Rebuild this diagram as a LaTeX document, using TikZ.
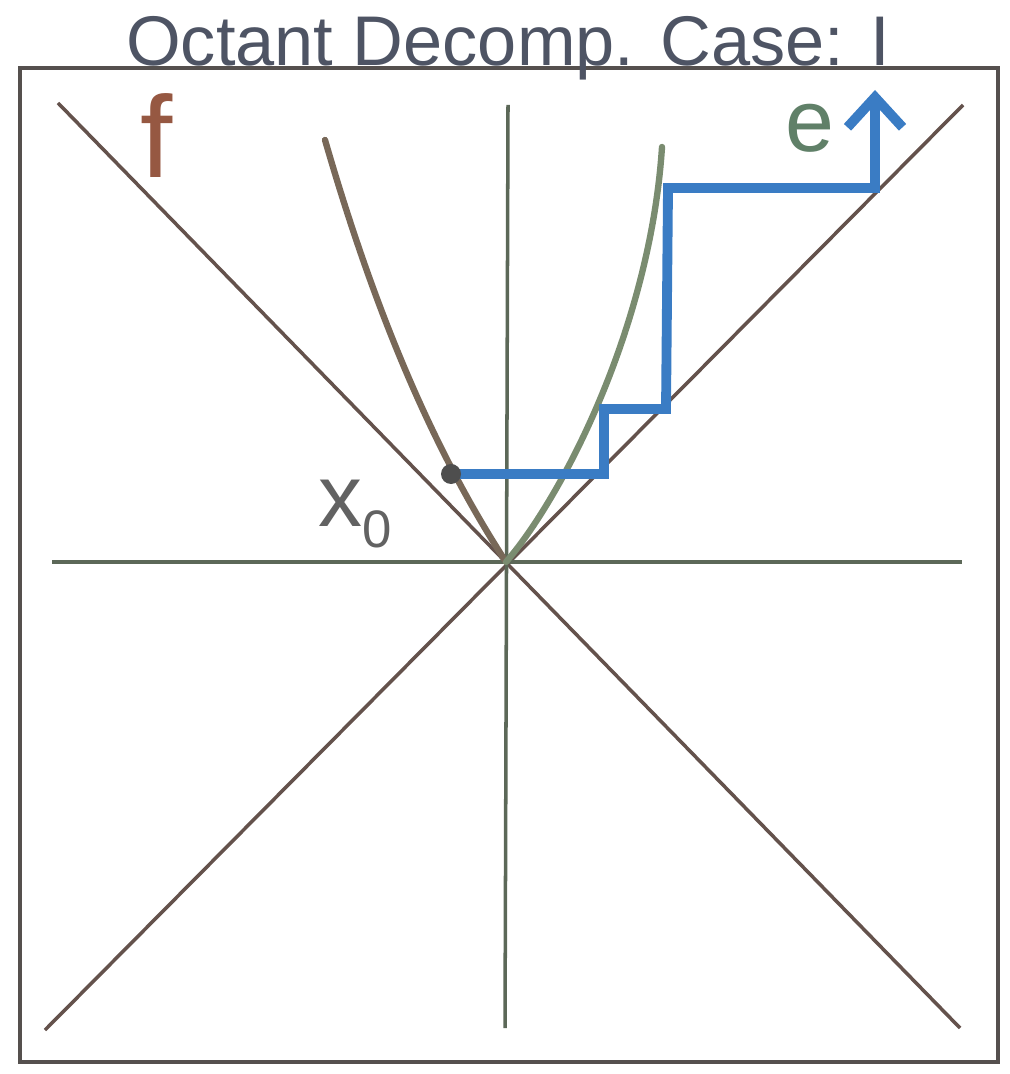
\documentclass[tikz,border=0pt]{standalone}
\usepackage{fontspec}
\setmainfont{Liberation Sans}
\usetikzlibrary{arrows.meta}

\definecolor{titlecol}{RGB}{78,84,100}
\definecolor{framecol}{RGB}{85,80,78}
\definecolor{diagcol}{RGB}{100,82,76}
\definecolor{axiscol}{RGB}{92,104,88}
\definecolor{leftcurve}{RGB}{120,104,88}
\definecolor{rightcurve}{RGB}{122,140,112}
\definecolor{stairblue}{RGB}{58,124,196}
\definecolor{fcol}{RGB}{150,88,66}
\definecolor{ecol}{RGB}{96,128,104}
\definecolor{xcol}{RGB}{98,98,98}

\begin{document}
\begin{tikzpicture}[
    x=0.01cm, y=-0.01cm,
    frame/.style={draw=framecol, line width=1.1pt},
    guide/.style={draw=diagcol, line width=1pt},
    axis/.style={draw=axiscol, line width=1pt},
    curve/.style={line width=1.8pt, line cap=round},
    stair/.style={draw=stairblue, line width=2.8pt, line join=miter},
    lbl/.style={inner sep=0pt, anchor=base}
]
\useasboundingbox (0,0) rectangle (1009,1074);

\draw[frame] (20,68) rectangle (998,1062);

\node[lbl, text=titlecol, font=\fontsize{20}{20}\selectfont] (title) at (508,66) {Octant Decomp. Case: I};

\coordinate (o) at (506,562);
\coordinate (fstart) at (58,103);
\coordinate (fend) at (960,1028);
\coordinate (estart) at (963,105);
\coordinate (eend) at (45,1030);
\coordinate (west) at (52,562);
\coordinate (east) at (962,562);
\coordinate (north) at (508,105);
\coordinate (south) at (505,1028);

\draw[guide] (fstart) -- (fend);
\draw[guide] (estart) -- (eend);
\draw[axis] (west) -- (east);
\draw[axis] (north) -- (south);

\coordinate (ltop) at (325,140);
\coordinate (rtop) at (662,147);
\draw[curve, leftcurve] (ltop) .. controls (380,330) and (440,460) .. (o);
\draw[curve, rightcurve] (rtop) .. controls (650,330) and (560,500) .. (o);

\coordinate (s0) at (451,474);
\coordinate (s1) at (604,474);
\coordinate (s2) at (604,409);
\coordinate (s3) at (666,409);
\coordinate (s4) at (668,188);
\coordinate (s5) at (875,188);
\coordinate (tip) at (875,90);

\draw[stair, -{Straight Barb[length=3mm,width=5.5mm]}] (s0) -- (s1) -- (s2) -- (s3) -- (s4) -- (s5) -- (tip);
\node[circle, fill=xcol!80!black, inner sep=0pt, minimum size=0.2cm] (x0dot) at (s0) {};

\node[lbl, text=fcol, font=\fontsize{33}{33}\selectfont] (flabel) at (157,178) {f};
\node[lbl, text=ecol, font=\fontsize{25}{25}\selectfont] (elabel) at (810,152) {e};
\node[lbl, text=xcol, font=\fontsize{25}{25}\selectfont] (xlabel) at (355,527) {x\raisebox{-0.2cm}{\fontsize{15}{15}\selectfont 0}};

\end{tikzpicture}
\end{document}
